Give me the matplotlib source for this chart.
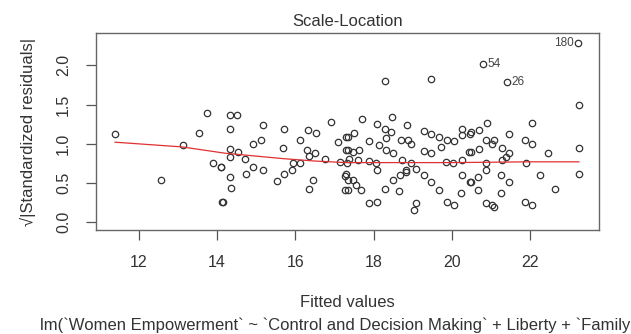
import numpy as np
import matplotlib
matplotlib.use('Agg')
import matplotlib.pyplot as plt

plt.rcParams['font.family'] = ['Liberation Sans', 'DejaVu Sans']

# fitted values / sqrt|standardized residuals|
fitted = [
    11.39, 13.73, 13.54, 13.13, 12.56, 13.90, 14.09, 14.12,
    14.32, 14.51, 14.34, 15.16, 15.71, 14.92, 15.13, 15.68, 16.13, 16.32, 16.53, 16.90,
    17.08, 17.30, 14.32, 14.53, 14.32, 14.70, 14.11, 14.92, 15.16, 14.73, 14.32, 14.36,
    14.15, 16.30, 16.49, 16.36, 16.77, 15.95, 16.13, 15.92, 15.72, 15.53, 16.46, 16.34,
    17.13, 17.31, 17.28, 17.28, 17.30,
    17.70, 18.46, 18.08, 18.29, 18.45, 18.85, 17.34, 17.51, 17.89, 18.15, 18.32, 18.70,
    18.87, 18.96, 19.28, 19.48, 19.68, 19.89, 20.06, 20.27, 20.27, 20.47, 20.44,
    17.34, 17.47, 17.64, 17.38, 17.59, 17.89, 18.06, 18.10, 18.32, 18.49, 18.72, 18.96,
    19.08, 18.83, 19.30, 19.48, 19.72, 19.85, 20.02, 20.27, 17.30, 17.34, 17.47, 17.55,
    17.68, 17.34, 18.49, 18.28, 18.68, 18.83, 18.66, 19.30, 19.48, 19.68, 17.89, 18.10,
    19.08, 19.04, 19.89, 20.06, 20.23, 20.27, 20.47,
    23.25, 22.06, 20.89, 20.70, 20.49, 21.47, 20.87, 21.08, 21.04, 21.87, 22.06, 21.29,
    21.47, 21.38, 20.70, 20.49, 22.46, 23.25, 20.87, 20.87, 21.29, 21.89, 22.25, 23.25,
    21.25, 21.47, 20.66, 20.49, 20.66, 21.25, 22.64, 20.87, 21.04, 21.08, 21.87, 22.06,
    18.28, 19.47, 20.81, 21.42, 23.23,
]
sqrt_std_resid = [
    1.12, 1.39, 1.14, 0.99, 0.54, 0.76, 0.70, 0.26,
    1.37, 1.37, 1.19, 1.24, 1.19, 1.00, 1.05, 0.94, 1.05, 1.18, 1.14, 1.28,
    1.02, 1.09, 0.93, 0.90, 0.83, 0.81, 0.70, 0.70, 0.66, 0.62, 0.58, 0.44,
    0.26, 0.92, 0.88, 0.85, 0.81, 0.76, 0.75, 0.66, 0.61, 0.53, 0.54, 0.42,
    0.77, 0.76, 0.59, 0.41, 0.92,
    1.32, 1.34, 1.25, 1.19, 1.15, 1.24, 1.08, 1.14, 1.04, 0.99, 1.07, 1.05,
    1.05, 1.00, 1.16, 1.13, 1.09, 1.05, 1.04, 1.19, 1.11, 1.13, 0.90,
    0.92, 0.90, 0.92, 0.81, 0.79, 0.78, 0.75, 0.66, 0.92, 0.88, 0.79, 0.75,
    0.68, 0.66, 0.91, 0.88, 0.96, 0.77, 0.75, 0.79, 0.62, 0.54, 0.54, 0.47,
    0.41, 0.41, 0.54, 0.42, 0.60, 0.64, 0.40, 0.60, 0.51, 0.41, 0.24, 0.26,
    0.24, 0.15, 0.26, 0.22, 0.37, 0.60, 0.51,
    1.49, 1.27, 1.27, 1.18, 1.15, 1.13, 1.05, 1.05, 1.00, 1.05, 1.00, 0.94,
    0.88, 0.83, 0.93, 0.90, 0.88, 0.95, 0.76, 0.67, 0.79, 0.76, 0.60, 0.61,
    0.60, 0.51, 0.58, 0.51, 0.41, 0.37, 0.42, 0.24, 0.22, 0.20, 0.26, 0.22,
    1.80, 1.82, 2.02, 1.79, 2.28,
]

# labelled outliers (index into the arrays above, label, side)
outliers = [(-3, '54', 'right'), (-2, '26', 'right'), (-1, '180', 'left')]

# smoother (red line)
smooth_x = [11.39, 13.1, 14.2, 15.7, 16.5, 17.3, 18.0, 20.0, 22.0, 23.25]
smooth_y = [1.02, 0.96, 0.88, 0.81, 0.78, 0.76, 0.76, 0.76, 0.77, 0.77]

fig = plt.figure(figsize=(6.31, 3.34), dpi=100)
ax = fig.add_axes([0.152, 0.311, 0.797, 0.590])

ax.plot(fitted, sqrt_std_resid, 'o', mfc='none', mec='#333333', ms=4.6, mew=0.9)
ax.plot(smooth_x, smooth_y, '-', color='#e03030', lw=0.9)

for idx, lab, side in outliers:
    x, y = fitted[idx], sqrt_std_resid[idx]
    if side == 'right':
        ax.annotate(lab, (x, y), xytext=(3, 0), textcoords='offset points',
                    ha='left', va='center', fontsize=8.5, color='#444444')
    else:
        ax.annotate(lab, (x, y), xytext=(-3, 0), textcoords='offset points',
                    ha='right', va='center', fontsize=8.5, color='#444444')

ax.set_xlim(10.9, 23.76)
ax.set_ylim(-0.10, 2.41)
ax.set_xticks([12, 14, 16, 18, 20, 22])
ax.set_yticks([0.0, 0.5, 1.0, 1.5, 2.0])
ax.set_yticklabels(['0.0', '0.5', '1.0', '1.5', '2.0'], rotation=90, va='center')
ax.tick_params(length=7, width=0.9, color='#555555', labelsize=11.5,
               labelcolor='#333333', pad=11)
for s in ax.spines.values():
    s.set_color('#666666')
    s.set_linewidth(1.0)

ax.set_title('Scale-Location', fontsize=12, color='#333333', pad=5)
ax.set_ylabel('\u221a|Standardized residuals|', fontsize=12, color='#333333', labelpad=14)
fig.text(0.55, 0.093, 'Fitted values', ha='center', va='center', fontsize=12, color='#333333')
fig.text(0.064, 0.027,
         'lm(`Women Empowerment` ~ `Control and Decision Making` + Liberty + `Family',
         ha='left', va='center', fontsize=12, color='#333333')

fig.savefig('out.png', dpi=100)
